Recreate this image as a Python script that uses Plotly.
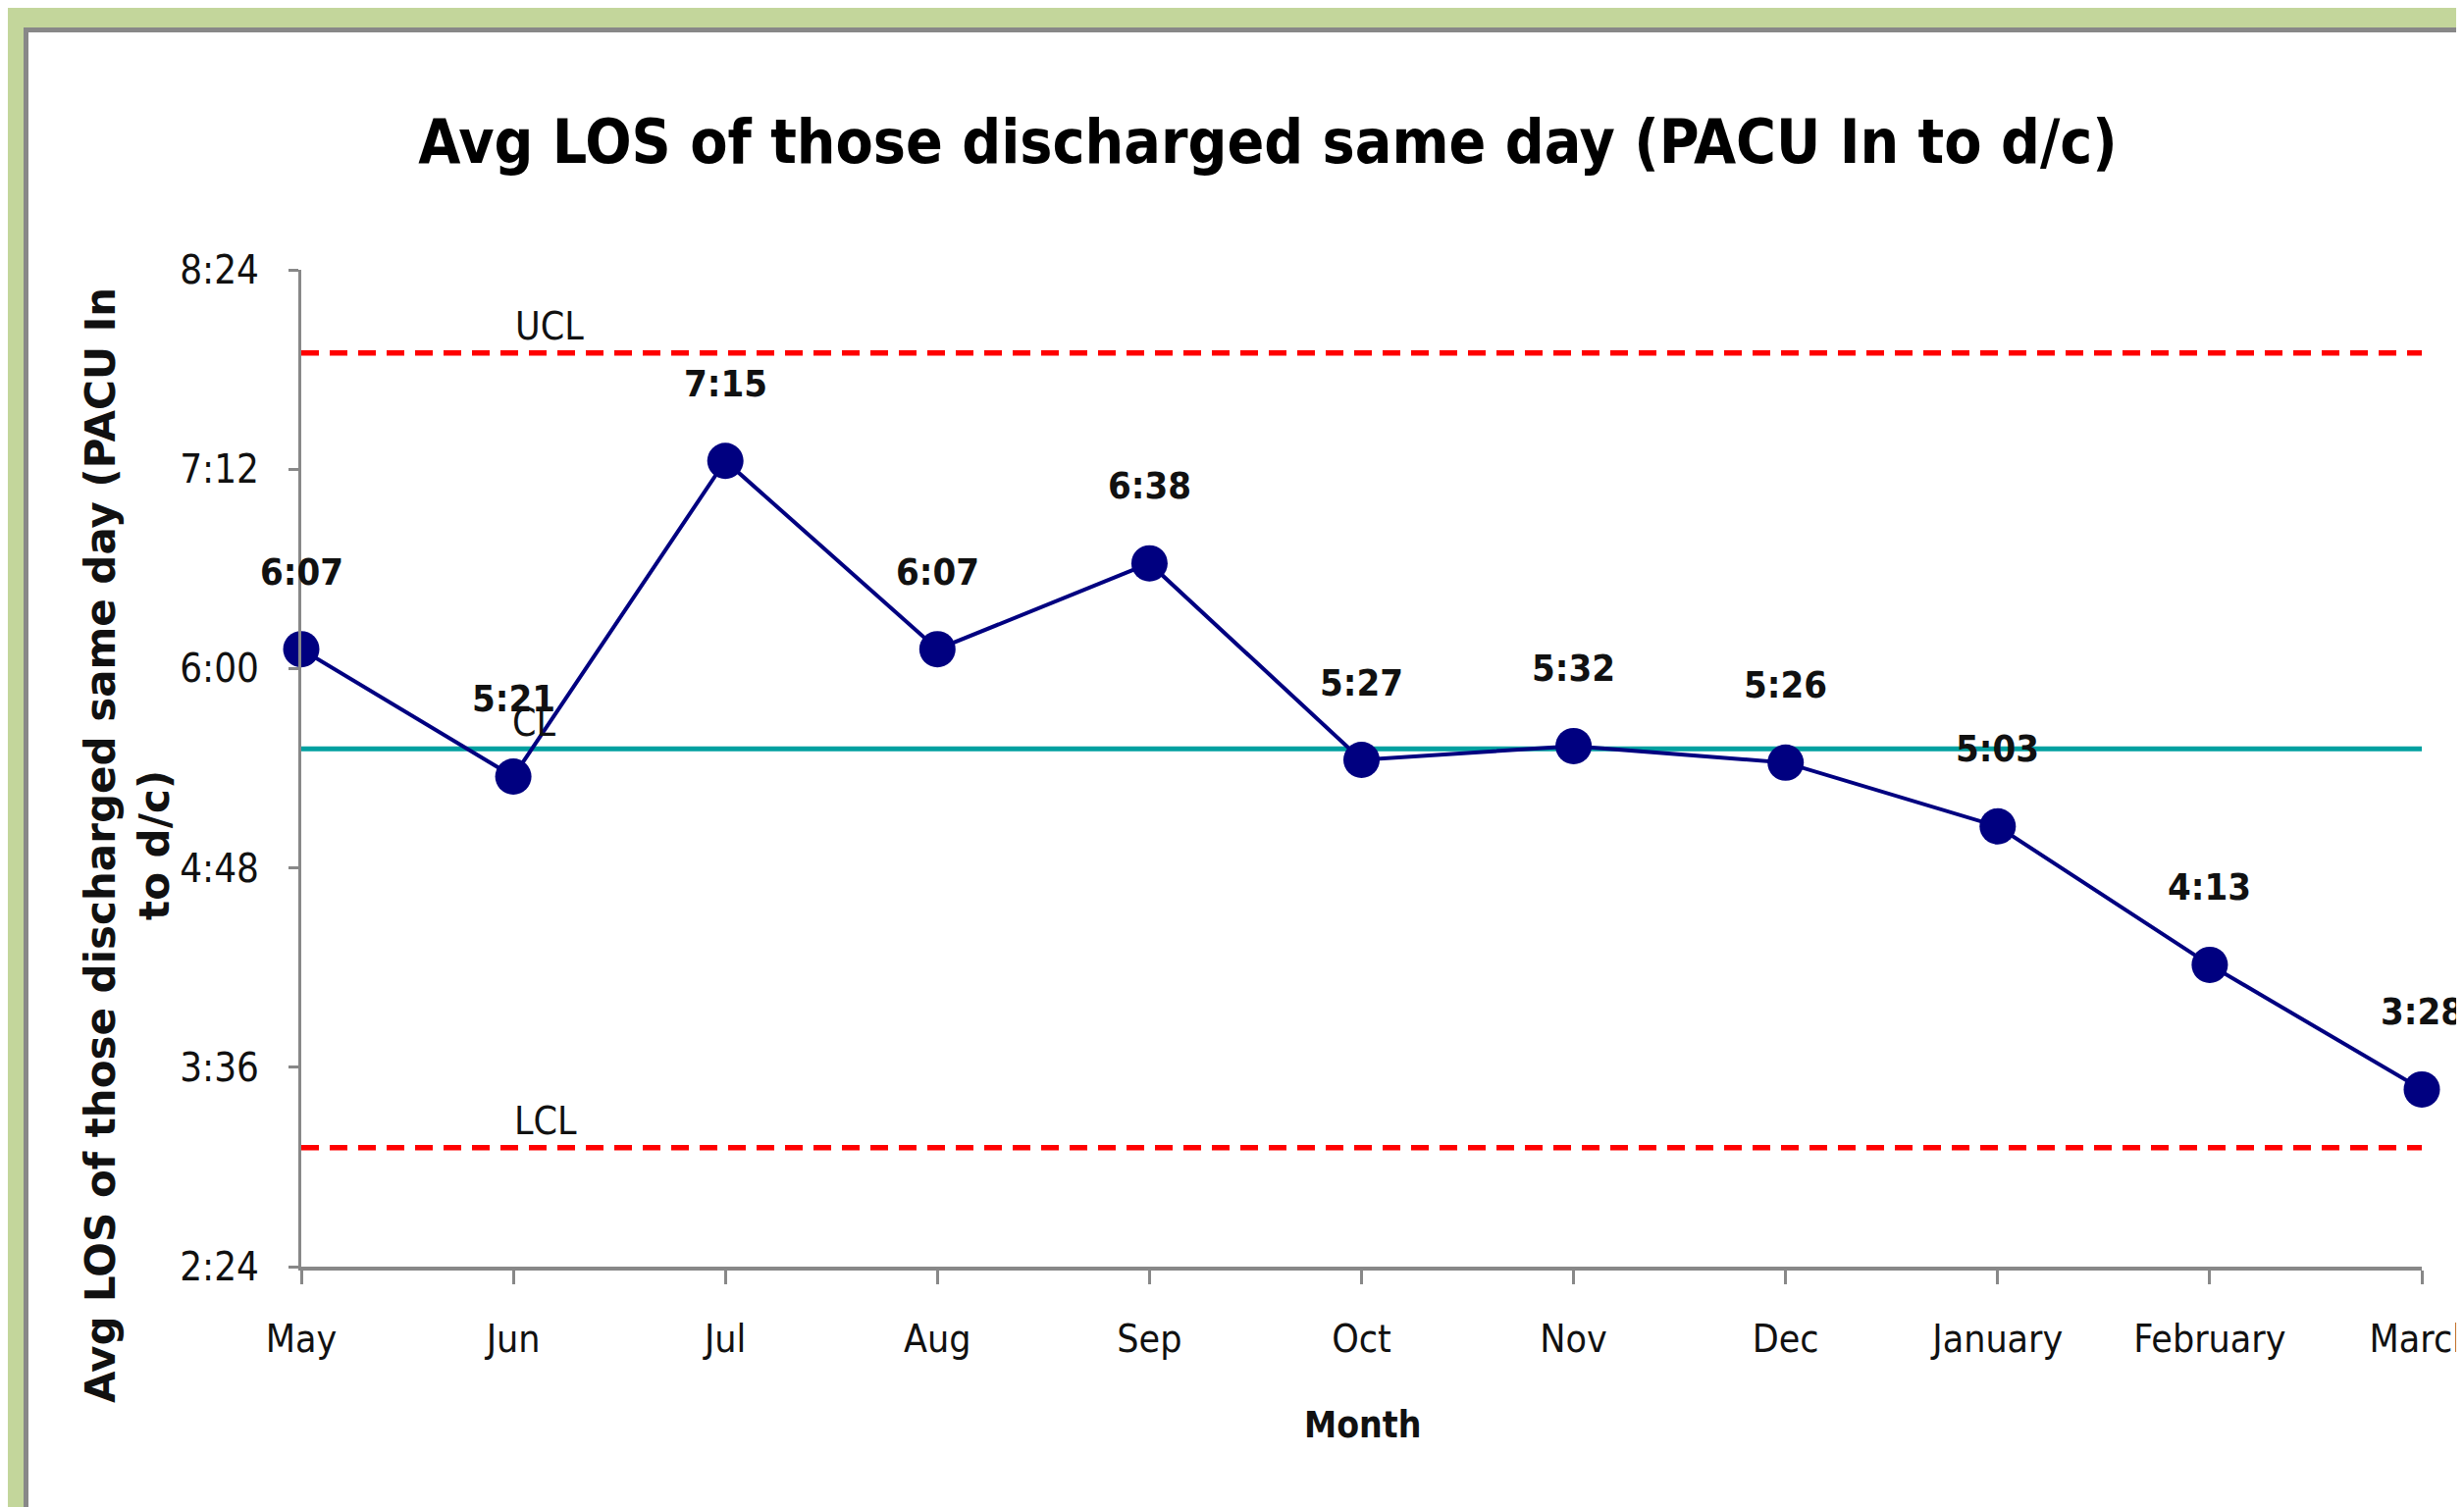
import plotly.graph_objects as go

# ---- data ----
months = ["May", "Jun", "Jul", "Aug", "Sep", "Oct", "Nov", "Dec", "January", "February", "March"]
avg_los = ["6:07", "5:21", "7:15", "6:07", "6:38", "5:27", "5:32", "5:26", "5:03", "4:13", "3:28"]
cl_value = "5:31"
ucl_value = "7:54"
lcl_value = "3:07"
y_tick_labels = ["2:24", "3:36", "4:48", "6:00", "7:12", "8:24"]


def to_min(s):
    h, m = s.split(":")
    return int(h) * 60 + int(m)


x_idx = list(range(len(months)))
y_vals = [to_min(v) for v in avg_los]
y_ticks = [to_min(v) for v in y_tick_labels]
cl, ucl, lcl = to_min(cl_value), to_min(ucl_value), to_min(lcl_value)

# ---- layout geometry (page pixels; page body has an 8px margin) ----
OFF = 8
W, H = 2511, 1536
L, R, T, B = 307 - OFF, 2468 - OFF, 275 - OFF, 1291 - OFF


def px_x(p):
    return (p - OFF - L) / (R - L)


def px_y(p):
    return (B - (p - OFF)) / (B - T)


NARROW = "DejaVu Sans Condensed, Liberation Sans Narrow, sans-serif"
NAVY = "#000080"
TXT = "#111111"

fig = go.Figure()

# control lines
for val in (ucl, lcl):
    fig.add_trace(go.Scatter(x=[x_idx[0], x_idx[-1]], y=[val, val], mode="lines",
                             line=dict(color="#FF0000", width=5.5, dash="18px,11px"),
                             hoverinfo="skip", showlegend=False, cliponaxis=False))
fig.add_trace(go.Scatter(x=[x_idx[0], x_idx[-1]], y=[cl, cl], mode="lines",
                         line=dict(color="#00A0A0", width=5),
                         hoverinfo="skip", showlegend=False, cliponaxis=False))

# main series
fig.add_trace(go.Scatter(x=x_idx, y=y_vals, mode="lines+markers",
                         line=dict(color=NAVY, width=4),
                         marker=dict(color=NAVY, size=37),
                         showlegend=False, cliponaxis=False))

annotations = []
for xi, yv, lab in zip(x_idx, y_vals, avg_los):
    annotations.append(dict(x=xi, y=yv, xref="x", yref="y", text="<b>" + lab + "</b>",
                            showarrow=False, xanchor="center", yanchor="middle",
                            yshift=79, font=dict(family=NARROW, size=38, color=TXT)))

for txt, val, xpos in [("UCL", ucl, 1.17), ("CL", cl, 1.10), ("LCL", lcl, 1.15)]:
    annotations.append(dict(x=xpos, y=val, xref="x", yref="y", text=txt, showarrow=False,
                            xanchor="center", yanchor="middle",
                            yshift=27, font=dict(family=NARROW, size=39, color=TXT)))

# axis titles
annotations.append(dict(x=px_x(1388), y=px_y(1452), xref="paper", yref="paper",
                        text="<b>Month</b>", showarrow=False,
                        xanchor="center", yanchor="middle",
                        font=dict(family=NARROW, size=37, color=TXT)))
annotations.append(dict(x=px_x(130), y=px_y(862), xref="paper", yref="paper",
                        text="<b>Avg LOS of those discharged same day (PACU In<br>to d/c)</b>",
                        showarrow=False, textangle=-90,
                        xanchor="center", yanchor="middle",
                        font=dict(family="DejaVu Sans", size=42, color=TXT)))

fig.update_layout(
    width=W, height=H,
    margin=dict(l=L, r=W - R, t=T, b=H - B, pad=0, autoexpand=False),
    paper_bgcolor="#C3D69B",
    plot_bgcolor="white",
    title=dict(text="<b>Avg LOS of those discharged same day (PACU In to d/c)</b>",
               x=(1292 - OFF) / W, y=1 - (144 - OFF) / H, xref="container", yref="container",
               xanchor="center", yanchor="middle",
               font=dict(family=NARROW, size=62, color="#000000")),
    shapes=[dict(type="rect", xref="paper", yref="paper", layer="below",
                 x0=px_x(26.5), x1=px_x(2580), y0=px_y(30.5), y1=px_y(1600),
                 fillcolor="white", line=dict(color="#888888", width=5))],
    annotations=annotations,
    xaxis=dict(range=[0, len(months) - 1], tickvals=x_idx, ticktext=months,
               automargin=False,
               showgrid=False, zeroline=False, showline=True, linecolor="#888888", linewidth=4,
               ticks="outside", ticklen=14, tickwidth=3, tickcolor="#888888",
               ticklabelstandoff=22, ticklabeloverflow="allow",
               tickfont=dict(family=NARROW, size=39, color=TXT)),
    yaxis=dict(range=[y_ticks[0], y_ticks[-1]], tickvals=y_ticks, ticktext=y_tick_labels,
               automargin=False,
               showgrid=False, zeroline=False, showline=True, linecolor="#888888", linewidth=3,
               ticks="outside", ticklen=10, tickwidth=3, tickcolor="#888888",
               ticklabelstandoff=22,
               tickfont=dict(family=NARROW, size=40, color=TXT)),
)

fig.write_html("out.html", config={"displayModeBar": False})
